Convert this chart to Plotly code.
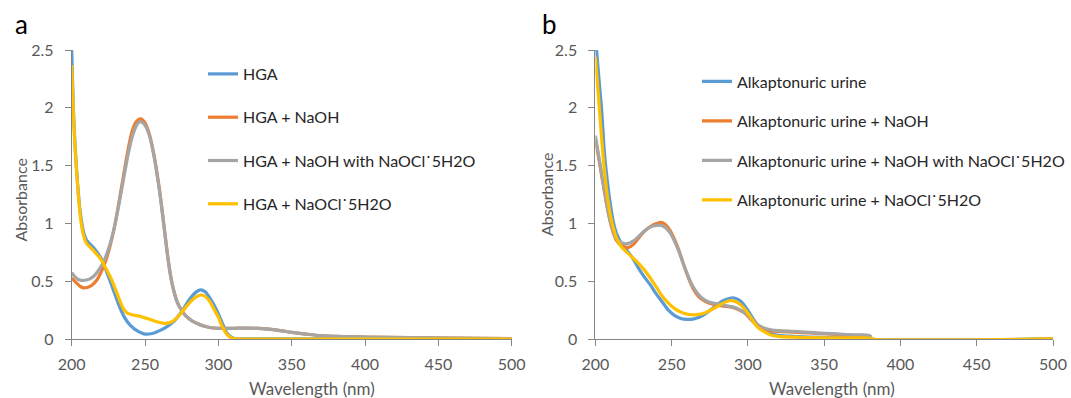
import plotly.graph_objects as go

# ---------------- Panel a: HGA ----------------
a_hga_wl = [200, 201, 202, 204, 206, 208, 210, 212, 215, 218, 220, 223, 226, 230, 233, 236, 240, 245, 250, 255,
            260, 265, 270, 275, 280, 285, 288, 291, 295, 300, 303, 306, 310, 314, 320, 400, 500]
a_hga_abs = [2.50, 2.05, 1.75, 1.35, 1.08, 0.93, 0.86, 0.83, 0.79, 0.74, 0.70, 0.61, 0.51, 0.37, 0.27, 0.19, 0.12,
             0.07, 0.045, 0.05, 0.075, 0.11, 0.16, 0.24, 0.34, 0.41, 0.427, 0.41, 0.34, 0.22, 0.13, 0.05, 0.012,
             0.004, 0.003, 0.003, 0.003]

a_naoh_wl = [200, 203, 206, 208, 211, 214, 217, 220, 223, 226, 229, 232, 235, 238, 241, 244, 247, 250, 253, 256,
             258, 260, 262, 264, 266, 268, 270, 272, 275, 278, 282, 286, 290, 295, 300, 310, 320, 330, 340, 350,
             360, 370, 380, 400, 430, 460, 500]
a_naoh_abs = [0.53, 0.49, 0.455, 0.445, 0.45, 0.47, 0.51, 0.58, 0.67, 0.80, 0.96, 1.17, 1.39, 1.61, 1.79, 1.88,
              1.905, 1.87, 1.77, 1.60, 1.45, 1.28, 1.08, 0.87, 0.67, 0.51, 0.40, 0.32, 0.25, 0.20, 0.16, 0.135,
              0.115, 0.10, 0.095, 0.095, 0.097, 0.093, 0.08, 0.06, 0.045, 0.032, 0.025, 0.02, 0.015, 0.01, 0.005]

a_naoh_ocl_wl = [200, 203, 206, 209, 212, 215, 218, 221, 224, 227, 230, 233, 236, 239, 242, 245, 247, 250, 253,
                 256, 258, 260, 262, 264, 266, 268, 270, 272, 275, 278, 282, 286, 290, 295, 300, 310, 320, 330,
                 340, 350, 360, 370, 380, 400, 430, 460, 500]
a_naoh_ocl_abs = [0.575, 0.53, 0.51, 0.51, 0.52, 0.545, 0.59, 0.65, 0.74, 0.86, 1.02, 1.22, 1.43, 1.63, 1.78,
                  1.865, 1.88, 1.85, 1.76, 1.59, 1.44, 1.27, 1.07, 0.86, 0.66, 0.51, 0.40, 0.32, 0.25, 0.20, 0.16,
                  0.135, 0.115, 0.10, 0.095, 0.095, 0.097, 0.093, 0.08, 0.06, 0.045, 0.032, 0.025, 0.02, 0.015,
                  0.01, 0.005]

a_ocl_wl = [200, 201, 202, 204, 206, 208, 210, 213, 216, 220, 223, 226, 229, 232, 235, 238, 242, 246, 250, 255,
            260, 264, 268, 272, 276, 280, 284, 288, 291, 294, 297, 300, 303, 306, 309, 312, 320, 400, 500]
a_ocl_abs = [2.37, 2.00, 1.72, 1.33, 1.05, 0.90, 0.83, 0.79, 0.75, 0.69, 0.62, 0.55, 0.46, 0.36, 0.27, 0.225,
             0.21, 0.20, 0.185, 0.165, 0.145, 0.138, 0.15, 0.19, 0.25, 0.31, 0.36, 0.383, 0.37, 0.33, 0.26, 0.19,
             0.10, 0.04, 0.012, 0.003, 0.002, 0.002, 0.002]

# ---------------- Panel b: Alkaptonuric urine ----------------
b_urine_wl = [200, 202, 204, 206, 208, 210, 212, 214, 217, 220, 224, 228, 232, 236, 240, 244, 248, 252, 256, 260,
              264, 268, 272, 276, 280, 284, 288, 291, 294, 297, 300, 303, 306, 310, 315, 320, 330, 340, 360, 380,
              381, 500]
b_urine_abs = [2.62, 2.30, 2.00, 1.60, 1.35, 1.15, 1.00, 0.91, 0.83, 0.78, 0.71, 0.62, 0.54, 0.47, 0.39, 0.32,
               0.25, 0.205, 0.18, 0.172, 0.175, 0.19, 0.22, 0.26, 0.30, 0.335, 0.355, 0.357, 0.34, 0.305, 0.25,
               0.185, 0.13, 0.085, 0.05, 0.035, 0.025, 0.02, 0.015, 0.01, 0.003, 0.003]

b_naoh_wl = [200, 202, 204, 206, 208, 210, 212, 214, 217, 220, 222, 225, 228, 232, 236, 240, 243, 246, 249, 252,
             255, 258, 261, 264, 267, 270, 274, 278, 282, 286, 290, 294, 298, 302, 306, 310, 315, 320, 330, 340,
             350, 360, 370, 380, 381, 500]
b_naoh_abs = [1.72, 1.58, 1.42, 1.27, 1.12, 1.00, 0.91, 0.85, 0.81, 0.795, 0.795, 0.82, 0.87, 0.93, 0.975, 1.00,
              1.01, 0.99, 0.94, 0.86, 0.76, 0.64, 0.53, 0.44, 0.38, 0.345, 0.315, 0.30, 0.29, 0.285, 0.275, 0.255,
              0.225, 0.17, 0.12, 0.09, 0.075, 0.068, 0.062, 0.055, 0.048, 0.04, 0.033, 0.028, 0.003, 0.003]

b_naoh_ocl_wl = [200, 202, 204, 206, 208, 210, 212, 214, 217, 220, 222, 225, 228, 232, 236, 240, 243, 246, 249,
                 252, 255, 258, 261, 264, 267, 270, 274, 278, 282, 286, 290, 294, 298, 302, 306, 310, 315, 320,
                 330, 340, 350, 360, 370, 380, 381, 500]
b_naoh_ocl_abs = [1.76, 1.60, 1.44, 1.28, 1.13, 1.01, 0.92, 0.865, 0.835, 0.825, 0.83, 0.85, 0.885, 0.935, 0.97,
                  0.985, 0.985, 0.965, 0.92, 0.845, 0.75, 0.64, 0.54, 0.455, 0.395, 0.355, 0.325, 0.31, 0.30,
                  0.29, 0.28, 0.26, 0.23, 0.18, 0.13, 0.10, 0.083, 0.075, 0.068, 0.06, 0.052, 0.045, 0.038, 0.03,
                  0.003, 0.003]

b_ocl_wl = [200, 202, 204, 206, 208, 210, 212, 214, 217, 220, 224, 228, 232, 236, 240, 244, 248, 252, 256, 260,
            264, 268, 272, 276, 280, 284, 288, 291, 294, 297, 300, 303, 306, 310, 315, 320, 330, 340, 360, 380,
            381, 500]
b_ocl_abs = [2.44, 2.10, 1.75, 1.45, 1.22, 1.06, 0.95, 0.87, 0.80, 0.76, 0.71, 0.66, 0.60, 0.53, 0.45, 0.37,
             0.31, 0.265, 0.235, 0.218, 0.212, 0.215, 0.23, 0.255, 0.285, 0.315, 0.333, 0.33, 0.31, 0.275, 0.225,
             0.165, 0.11, 0.07, 0.038, 0.025, 0.018, 0.015, 0.012, 0.01, 0.003, 0.003]

a_names = ["HGA", "HGA + NaOH", "HGA + NaOH with NaOCl\u02d95H2O", "HGA + NaOCl\u02d95H2O"]
b_names = ["Alkaptonuric urine", "Alkaptonuric urine + NaOH",
           "Alkaptonuric urine + NaOH with NaOCl\u02d95H2O", "Alkaptonuric urine + NaOCl\u02d95H2O"]
colors = ["#5B9BD5", "#ED7D31", "#A5A5A5", "#FFC000"]

x_ticks = [200, 250, 300, 350, 400, 450, 500]
y_ticks = [0, 0.5, 1, 1.5, 2, 2.5]
y_tick_text = ["0", "0.5", "1", "1.5", "2", "2.5"]

FONT = "Lato, 'Open Sans', sans-serif"
W, H = 1071, 398


def fx(px):
    return px / W


def fy(py):
    return 1 - py / H


fig = go.Figure()

a_series = [(a_hga_wl, a_hga_abs), (a_naoh_wl, a_naoh_abs), (a_naoh_ocl_wl, a_naoh_ocl_abs), (a_ocl_wl, a_ocl_abs)]
b_series = [(b_urine_wl, b_urine_abs), (b_naoh_wl, b_naoh_abs), (b_naoh_ocl_wl, b_naoh_ocl_abs), (b_ocl_wl, b_ocl_abs)]

for i, ((xs, ys), name) in enumerate(zip(a_series, a_names)):
    fig.add_trace(go.Scatter(x=xs, y=ys, name=name, mode="lines",
                             line=dict(color=colors[i], width=3.2, shape="spline", smoothing=0.8),
                             xaxis="x", yaxis="y", legend="legend", legendgroup="a%d" % i))
for i, ((xs, ys), name) in enumerate(zip(b_series, b_names)):
    fig.add_trace(go.Scatter(x=xs, y=ys, name=name, mode="lines",
                             line=dict(color=colors[i], width=3.2, shape="spline", smoothing=0.8),
                             xaxis="x2", yaxis="y2", legend="legend2", legendgroup="b%d" % i))

ydom = [fy(339.3), fy(50)]
axis_common = dict(showgrid=False, zeroline=False, showline=True, linecolor="#868686", linewidth=1,
                   ticks="outside", ticklen=6, tickcolor="#868686", tickwidth=1, automargin=False,
                   tickfont=dict(family=FONT, size=16, color="#595959"), fixedrange=True)

fig.update_layout(
    width=W, height=H,
    margin=dict(l=0, r=0, t=0, b=0, pad=0, autoexpand=False),
    paper_bgcolor="white", plot_bgcolor="white",
    showlegend=True,
    xaxis=dict(domain=[fx(71.7), fx(511.7)], range=[200, 500], tickvals=x_ticks, anchor="y",
               ticklabelstandoff=4, **axis_common),
    yaxis=dict(domain=ydom, range=[0, 2.5], tickvals=y_ticks, ticktext=y_tick_text, anchor="x",
               ticklabelstandoff=8, **axis_common),
    xaxis2=dict(domain=[fx(595.4), fx(1053)], range=[200, 500], tickvals=x_ticks, anchor="y2",
                ticklabelstandoff=4, **axis_common),
    yaxis2=dict(domain=ydom, range=[0, 2.5], tickvals=y_ticks, ticktext=y_tick_text, anchor="x2",
                ticklabelstandoff=8, **axis_common),
    legend=dict(x=fx(203), y=fy(57), xanchor="left", yanchor="top", bgcolor="rgba(0,0,0,0)",
                font=dict(family=FONT, size=16, color="#262626"), traceorder="grouped",
                tracegroupgap=19.5, itemwidth=30),
    legend2=dict(x=fx(697), y=fy(64.5), xanchor="left", yanchor="top", bgcolor="rgba(0,0,0,0)",
                 font=dict(family=FONT, size=16, color="#262626"), traceorder="grouped",
                 tracegroupgap=15.7, itemwidth=30),
    annotations=[
        dict(text="a", x=fx(21.5), y=fy(24), xref="paper", yref="paper", showarrow=False,
             xanchor="center", yanchor="middle", font=dict(family=FONT, size=26, color="black")),
        dict(text="b", x=fx(549), y=fy(24), xref="paper", yref="paper", showarrow=False,
             xanchor="center", yanchor="middle", font=dict(family=FONT, size=26, color="black")),
        dict(text="Absorbance", x=fx(20.5), y=fy(200), xref="paper", yref="paper", showarrow=False,
             textangle=-90, xanchor="center", yanchor="middle", font=dict(family=FONT, size=16, color="#595959")),
        dict(text="Absorbance", x=fx(547), y=fy(195), xref="paper", yref="paper", showarrow=False,
             textangle=-90, xanchor="center", yanchor="middle", font=dict(family=FONT, size=16, color="#595959")),
        dict(text="Wavelength (nm)", x=fx(312), y=fy(388), xref="paper", yref="paper", showarrow=False,
             xanchor="center", yanchor="middle", font=dict(family=FONT, size=17, color="#595959")),
        dict(text="Wavelength (nm)", x=fx(832), y=fy(388), xref="paper", yref="paper", showarrow=False,
             xanchor="center", yanchor="middle", font=dict(family=FONT, size=17, color="#595959")),
    ],
)

# remove the browser's default 8px body margin so the 1071x398 figure fills the window exactly
fig.write_html("out.html", config={"displayModeBar": False},
               post_script="document.body.style.margin='0';document.body.style.overflow='hidden';")
